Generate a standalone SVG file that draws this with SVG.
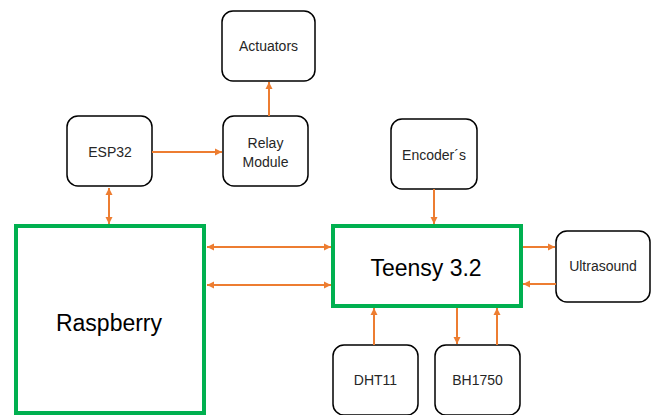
<svg xmlns="http://www.w3.org/2000/svg" width="651" height="415" viewBox="0 0 651 415">
<style>
.box{fill:#fff;stroke:#000;stroke-width:1.5}
.main{fill:#fff;stroke:#00B050;stroke-width:4}
.lbl{font-family:"Liberation Sans",Arial,sans-serif;font-size:14px;fill:#262626;text-anchor:middle}
.big{font-family:"Liberation Sans",Arial,sans-serif;font-size:23px;fill:#000;text-anchor:middle}
.c{stroke:#ED7D31;stroke-width:2;fill:none;marker-end:url(#ah)}
.cb{stroke:#ED7D31;stroke-width:2;fill:none;marker-end:url(#ah);marker-start:url(#ahs)}
</style>
<defs>
<marker id="ah" markerUnits="userSpaceOnUse" markerWidth="8" markerHeight="8" refX="7" refY="4" orient="auto"><path d="M0,0.5 L7,4 L0,7.5 Z" fill="#ED7D31"/></marker>
<marker id="ahs" markerUnits="userSpaceOnUse" markerWidth="8" markerHeight="8" refX="0" refY="4" orient="auto"><path d="M7,0.5 L0,4 L7,7.5 Z" fill="#ED7D31"/></marker>
</defs>
<g id="actuators"><rect class="box" x="222" y="11" width="93" height="70" rx="11"/><text class="lbl" x="268.5" y="51">Actuators</text></g>
<g id="relay"><rect class="box" x="223" y="116" width="85" height="70" rx="11"/><text class="lbl" x="265.5" y="148">Relay</text><text class="lbl" x="265.5" y="167">Module</text></g>
<g id="esp32"><rect class="box" x="67" y="116" width="85" height="70" rx="11"/><text class="lbl" x="110" y="157">ESP32</text></g>
<g id="encoders"><rect class="box" x="391" y="119" width="86" height="70" rx="11"/><text class="lbl" x="434" y="160">Encoder´s</text></g>
<g id="ultrasound"><rect class="box" x="556" y="231" width="94" height="71" rx="11"/><text class="lbl" x="603" y="271">Ultrasound</text></g>
<g id="dht11"><rect class="box" x="333" y="345" width="85" height="70" rx="11"/><text class="lbl" x="375.5" y="385">DHT11</text></g>
<g id="bh1750"><rect class="box" x="435" y="345" width="85" height="70" rx="11"/><text class="lbl" x="477.5" y="385">BH1750</text></g>
<g id="raspberry"><rect class="main" x="16" y="226" width="188" height="187"/><text class="big" x="109" y="331">Raspberry</text></g>
<g id="teensy"><rect class="main" x="333" y="226" width="188" height="80"/><text class="big" x="426" y="276">Teensy 3.2</text></g>
<g id="connectors">
<line class="c" x1="269" y1="116" x2="269" y2="82"/>
<line class="c" x1="152" y1="152" x2="222" y2="152"/>
<line class="cb" x1="109" y1="188" x2="109" y2="224"/>
<line class="cb" x1="207" y1="247" x2="331" y2="247"/>
<line class="cb" x1="207" y1="285" x2="331" y2="285"/>
<line class="c" x1="434" y1="189" x2="434" y2="224"/>
<line class="c" x1="523" y1="247" x2="555" y2="247"/>
<line class="c" x1="556" y1="284" x2="523" y2="284"/>
<line class="c" x1="374" y1="345" x2="374" y2="308"/>
<line class="c" x1="457" y1="308" x2="457" y2="344"/>
<line class="c" x1="497" y1="345" x2="497" y2="308"/>
</g>
</svg>
